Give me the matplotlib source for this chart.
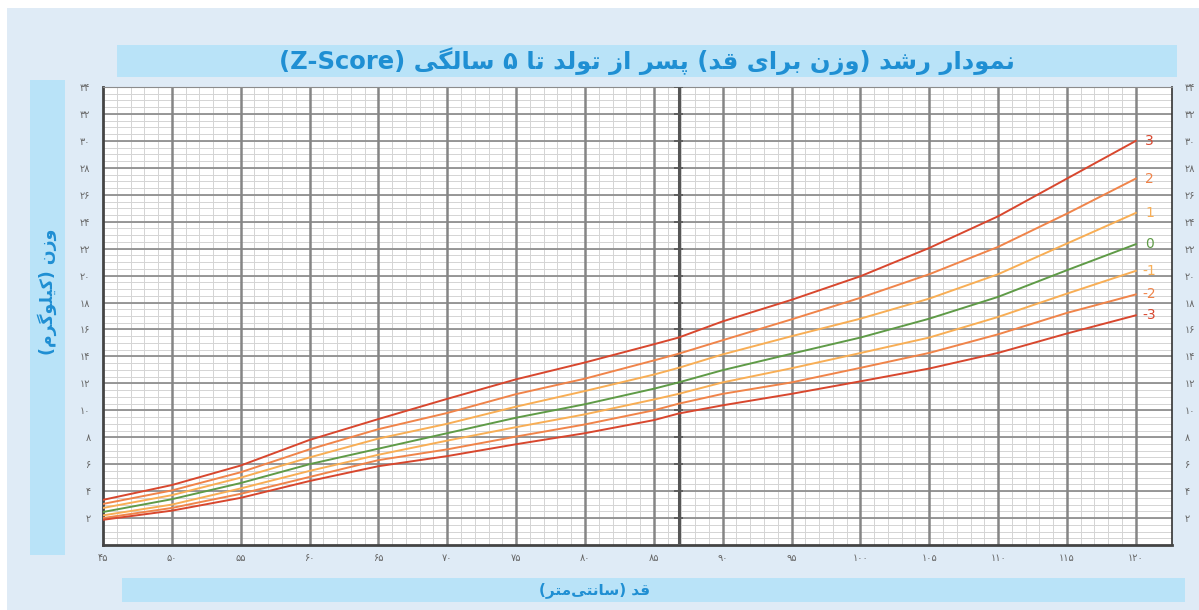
import re
import numpy as np
import matplotlib
matplotlib.use("Agg")
import matplotlib.pyplot as plt
from matplotlib.patches import Rectangle

# Data: height (cm) vs weight (kg) for each Z-score line
heights = [45, 50, 55, 60, 65, 70, 75, 80, 85, 86.8, 90, 95, 100, 105, 110, 115, 120]
z_p3 = [3.35, 4.45, 5.9, 7.8, 9.35, 10.85, 12.3, 13.55, 14.9, 15.4, 16.6, 18.2, 19.95, 22.05, 24.4, 27.2, 30.0]
z_p2 = [3.05, 4.05, 5.4, 7.1, 8.6, 9.8, 11.2, 12.35, 13.7, 14.2, 15.2, 16.75, 18.35, 20.1, 22.13, 24.6, 27.2]
z_p1 = [2.75, 3.7, 5.0, 6.5, 7.9, 9.0, 10.27, 11.43, 12.65, 13.15, 14.15, 15.5, 16.8, 18.29, 20.1, 22.38, 24.65]
z_0 = [2.45, 3.4, 4.6, 6.0, 7.15, 8.3, 9.45, 10.45, 11.6, 12.07, 12.98, 14.2, 15.4, 16.8, 18.42, 20.4, 22.33]
z_m1 = [2.2, 3.0, 4.2, 5.5, 6.7, 7.75, 8.75, 9.7, 10.8, 11.22, 12.07, 13.12, 14.25, 15.4, 16.93, 18.66, 20.35]
z_m2 = [2.0, 2.75, 3.8, 5.05, 6.3, 7.1, 8.05, 8.95, 10.0, 10.49, 11.22, 12.07, 13.15, 14.26, 15.64, 17.23, 18.6]
z_m3 = [1.87, 2.55, 3.5, 4.75, 5.85, 6.6, 7.48, 8.3, 9.27, 9.76, 10.37, 11.22, 12.15, 13.1, 14.26, 15.7, 17.05]

z_labels = ["3", "2", "1", "0", "-1", "-2", "-3"]
x_ticks = list(range(45, 121, 5))
y_ticks = list(range(2, 35, 2))

title_text = "نمودار رشد (وزن برای قد) پسر از تولد تا ۵ سالگی (Z-Score)"
xlabel_text = "قد (سانتی\u200cمتر)"
ylabel_text = "وزن (کیلوگرم)"

# --- simple Persian shaping (matplotlib has no Arabic shaping / bidi) ---
FORMS = {
    'ا': ('\uFE8D', '\uFE8E', None, None),
    'ب': ('\uFE8F', '\uFE90', '\uFE91', '\uFE92'),
    'پ': ('\uFB56', '\uFB57', '\uFB58', '\uFB59'),
    'ت': ('\uFE95', '\uFE96', '\uFE97', '\uFE98'),
    'د': ('\uFEA9', '\uFEAA', None, None),
    'ر': ('\uFEAD', '\uFEAE', None, None),
    'ز': ('\uFEAF', '\uFEB0', None, None),
    'س': ('\uFEB1', '\uFEB2', '\uFEB3', '\uFEB4'),
    'ش': ('\uFEB5', '\uFEB6', '\uFEB7', '\uFEB8'),
    'ق': ('\uFED5', '\uFED6', '\uFED7', '\uFED8'),
    'ک': ('\uFB8E', '\uFB8F', '\uFB90', '\uFB91'),
    'گ': ('\uFB92', '\uFB93', '\uFB94', '\uFB95'),
    'ل': ('\uFEDD', '\uFEDE', '\uFEDF', '\uFEE0'),
    'م': ('\uFEE1', '\uFEE2', '\uFEE3', '\uFEE4'),
    'ن': ('\uFEE5', '\uFEE6', '\uFEE7', '\uFEE8'),
    'و': ('\uFEED', '\uFEEE', None, None),
    'ی': ('\uFBFC', '\uFBFD', '\uFBFE', '\uFBFF'),
}


def fa(text):
    out = []
    for i, c in enumerate(text):
        if c not in FORMS:
            out.append(c)
            continue
        prev = text[i - 1] if i > 0 else ''
        nxt = text[i + 1] if i + 1 < len(text) else ''
        jp = prev in FORMS and FORMS[prev][2] is not None
        jn = FORMS[c][2] is not None and nxt in FORMS
        iso, fin, ini, med = FORMS[c]
        out.append(med if (jp and jn) else fin if jp else ini if jn else iso)
    s = ''.join(out).replace('\u200c', '')[::-1]
    s = s.translate(str.maketrans('()', ')('))
    return re.sub(r'[A-Za-z\-]+', lambda m: m.group(0)[::-1], s)


def fa_num(n):
    return str(n).translate(str.maketrans('0123456789', '۰۱۲۳۴۵۶۷۸۹'))


W, H = 1199, 610
fig = plt.figure(figsize=(W / 100, H / 100), dpi=100)
fig.patch.set_facecolor('white')

blue_txt = '#1f8fd3'
# background panels
fig.add_artist(Rectangle((7 / W, 0), 1192 / W, 602 / H, transform=fig.transFigure,
                         facecolor='#dfebf6', edgecolor='none', zorder=0))
fig.add_artist(Rectangle((117 / W, 1 - 77 / H), 1060 / W, 32 / H, transform=fig.transFigure,
                         facecolor='#b9e3f8', edgecolor='none', zorder=0))
fig.add_artist(Rectangle((30 / W, 1 - 555 / H), 35 / W, 475 / H, transform=fig.transFigure,
                         facecolor='#b9e3f8', edgecolor='none', zorder=0))
fig.add_artist(Rectangle((122 / W, 1 - 602 / H), 1063 / W, 24 / H, transform=fig.transFigure,
                         facecolor='#b9e3f8', edgecolor='none', zorder=0))

fig.text(647 / W, 1 - 61 / H, fa(title_text), ha='center', va='center',
         fontsize=17.5, fontweight='bold', color=blue_txt)
fig.text(595 / W, 1 - 590 / H, fa(xlabel_text), ha='center', va='center',
         fontsize=11, fontweight='bold', color=blue_txt)
fig.text(47 / W, 1 - 292 / H, fa(ylabel_text), ha='center', va='center',
         fontsize=12.5, fontweight='bold', color=blue_txt, rotation=90)

ax = fig.add_axes([103 / W, 65 / H, 1069 / W, 458 / H])
ax.set_facecolor('white')
xmax = 122.63
ax.set_xlim(45, xmax)
ax.set_ylim(0, 34)

# grid paper
ax.vlines(np.arange(46, 121, 1), 0, 34, color='#d4d4d4', lw=0.7, zorder=1)
ax.hlines(np.arange(0.5, 34, 0.5), 45, xmax, color='#d4d4d4', lw=0.7, zorder=1)
ax.hlines(y_ticks[:-1], 45, xmax, color='#909090', lw=1.3, zorder=2)
ax.vlines(x_ticks[1:], 0, 34, color='#858585', lw=1.8, zorder=2)

# length / height divider
ax.axvline(86.8, color='#555555', lw=2.2, zorder=3)
ax.hlines(y_ticks, 86.45, 87.15, color='#555555', lw=1.2, zorder=3)

series = [z_p3, z_p2, z_p1, z_0, z_m1, z_m2, z_m3]
colors = ['#d8472e', '#f0844a', '#f8ae55', '#5f9b47', '#f8ae55', '#f0844a', '#d8472e']
for vals, lab, col in zip(series, z_labels, colors):
    ax.plot(heights, vals, color=col, lw=1.4, zorder=4)
    ax.text(121.0, vals[-1], lab, color=col, fontsize=10, ha='center', va='center')

for side in ['left', 'bottom']:
    ax.spines[side].set_color('#444444')
    ax.spines[side].set_linewidth(2)
ax.spines['top'].set_color('#8c8c8c')
ax.spines['right'].set_color('#333333')
ax.spines['right'].set_linewidth(1.2)

ax.set_xticks(x_ticks)
ax.set_xticklabels([fa_num(v) for v in x_ticks])
ax.set_yticks(y_ticks)
ax.set_yticklabels([fa_num(v) for v in y_ticks])
ax.tick_params(axis='both', length=0, labelsize=7, labelcolor='#666666')
ax.tick_params(axis='y', pad=9, labelright=True)
ax.tick_params(axis='x', pad=6)

fig.savefig('out.png', dpi=100)
